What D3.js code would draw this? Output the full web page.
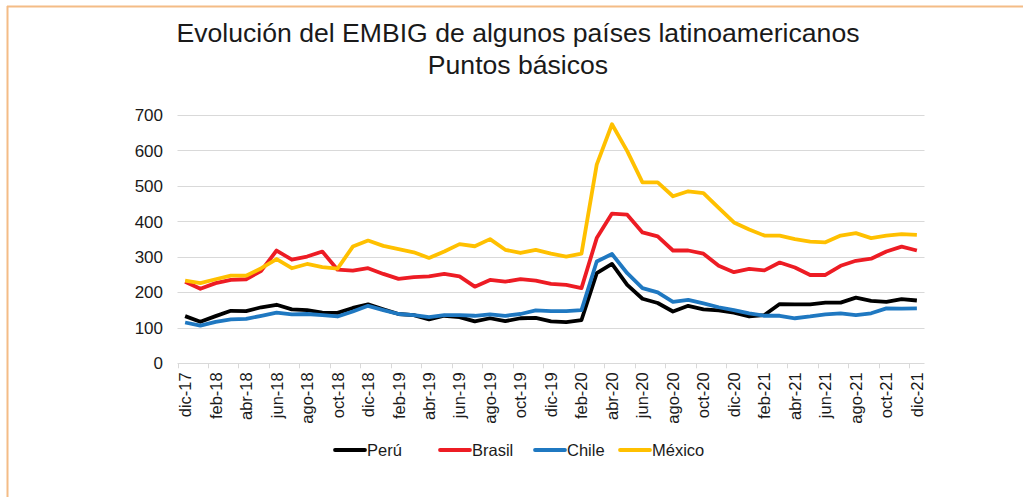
<!doctype html>
<html lang="es">

<head>
    <meta charset="utf-8">
    <title>Evolución del EMBIG</title>
    <script src="https://cdnjs.cloudflare.com/ajax/libs/d3/7.8.5/d3.min.js"></script>
</head>
<style type="text/css">
    body {
        margin: 0;
        background-color: #ffffff;
    }

    #chart text {
        font-family: "Liberation Sans", Arial, sans-serif;
        fill: #1a1a1a;
    }
</style>

<body>
    <svg id="chart" width="1023" height="497"></svg>

    <script>
        // valores (puntos basicos), dic-17 a dic-21
        var meses = ["ene", "feb", "mar", "abr", "may", "jun", "jul", "ago", "sep", "oct", "nov", "dic"];
        var fechas = ["dic-17"];
        [18, 19, 20, 21].forEach(function (a) {
            meses.forEach(function (m) {
                fechas.push(m + "-" + a);
            });
        });

        var peru = [133, 117, 133, 148, 147, 158, 165, 152, 150, 143, 142, 156, 166, 152, 139, 136, 124, 134, 130,
            118, 127, 119, 127, 128, 118, 116, 122, 254, 280, 221, 182, 170, 146, 162, 152, 149, 143, 132, 136, 167,
            166, 166, 171, 171, 185, 176, 173, 181, 177];
        var brasil = [230, 210, 226, 235, 237, 261, 318, 292, 301, 315, 264, 261, 268, 252, 238, 243, 245, 252, 245,
            216, 235, 230, 237, 233, 224, 221, 212, 353, 422, 419, 369, 358, 318, 318, 309, 275, 257, 266, 262, 284,
            270, 249, 249, 275, 289, 295, 315, 329, 318];
        var chile = [115, 106, 117, 124, 125, 134, 143, 138, 139, 136, 132, 146, 162, 150, 139, 136, 130, 136, 136,
            134, 138, 134, 139, 149, 147, 147, 150, 287, 308, 254, 212, 200, 173, 179, 169, 158, 150, 141, 134, 134,
            127, 132, 138, 141, 136, 141, 155, 154, 155];
        var mexico = [233, 226, 237, 247, 247, 268, 294, 268, 280, 271, 267, 329, 346, 331, 322, 313, 297, 315, 336,
            330, 350, 320, 311, 320, 309, 301, 309, 560, 674, 598, 510, 510, 471, 485, 480, 438, 397, 377, 360, 360,
            350, 343, 341, 360, 367, 353, 360, 364, 362];

        var series = [
            { nombre: "Perú", valores: peru, color: "#000000" },
            { nombre: "Brasil", valores: brasil, color: "#ed1c24" },
            { nombre: "Chile", valores: chile, color: "#1f78c1" },
            { nombre: "México", valores: mexico, color: "#ffc000" }
        ];
        var yTicks = [0, 100, 200, 300, 400, 500, 600, 700];

        var svg = d3.select("#chart");

        // marco naranja (arriba e izquierda)
        svg.append("line").attr("x1", 7).attr("x2", 1023).attr("y1", 6.5).attr("y2", 6.5)
            .style("stroke", "#f4bc86").style("stroke-width", 2);
        svg.append("line").attr("x1", 7.5).attr("x2", 7.5).attr("y1", 6).attr("y2", 497)
            .style("stroke", "#f4bc86").style("stroke-width", 2);

        // titulo
        svg.append("text").attr("x", 518).attr("y", 42).attr("text-anchor", "middle")
            .style("font-size", "26.6px").text("Evolución del EMBIG de algunos países latinoamericanos");
        svg.append("text").attr("x", 518).attr("y", 74).attr("text-anchor", "middle")
            .style("font-size", "26.6px").text("Puntos básicos");

        var x = d3.scaleBand().domain(fechas).range([177.5, 924.5]);
        var y = d3.scaleLinear().domain([0, 700]).range([363.3, 115]);
        var cx = function (d) {
            return x(d) + x.bandwidth() / 2;
        };

        // grilla
        svg.append("g").selectAll("line").data(yTicks).enter().append("line")
            .attr("x1", 177.5).attr("x2", 924.5)
            .attr("y1", function (d) { return Math.round(y(d)) + 0.5; })
            .attr("y2", function (d) { return Math.round(y(d)) + 0.5; })
            .style("stroke", "#d9d9d9").style("stroke-width", 1);

        // eje y
        svg.append("g").selectAll("text").data(yTicks).enter().append("text")
            .attr("x", 163).attr("y", function (d) { return y(d); })
            .attr("dy", "0.36em").attr("text-anchor", "end")
            .style("font-size", "17px")
            .text(function (d) { return d; });

        // eje x: marcas cada dos meses y etiquetas rotadas
        var cada2 = fechas.filter(function (d, i) { return i % 2 === 0; });
        svg.append("g").selectAll("line").data(cada2).enter().append("line")
            .attr("x1", function (d) { return Math.round(x(d)) + 0.5; })
            .attr("x2", function (d) { return Math.round(x(d)) + 0.5; })
            .attr("y1", y(0)).attr("y2", y(0) + 5)
            .style("stroke", "#d9d9d9").style("stroke-width", 1);
        svg.append("g").selectAll("text").data(cada2).enter().append("text")
            .attr("transform", function (d) { return "translate(" + cx(d) + "," + (y(0) + 9) + ") rotate(-90)"; })
            .attr("dy", "0.36em").attr("text-anchor", "end")
            .style("font-size", "16.5px")
            .text(function (d) { return d; });

        // lineas
        var linea = d3.line()
            .x(function (d, i) { return cx(fechas[i]); })
            .y(function (d) { return y(d); });

        svg.append("g").selectAll("path").data(series).enter().append("path")
            .attr("d", function (s) { return linea(s.valores); })
            .style("fill", "none")
            .style("stroke", function (s) { return s.color; })
            .style("stroke-width", 3.8)
            .style("stroke-linejoin", "round");

        // leyenda
        var legX = [335, 440, 535, 620];
        var leg = svg.append("g").selectAll("g").data(series).enter().append("g")
            .attr("transform", function (s, i) { return "translate(" + legX[i] + ",450)"; });
        leg.append("line").attr("x1", 0).attr("x2", 30).attr("y1", 0).attr("y2", 0)
            .style("stroke", function (s) { return s.color; })
            .style("stroke-width", 3.8).style("stroke-linecap", "round");
        leg.append("text").attr("x", 32).attr("dy", "0.36em")
            .style("font-size", "16.5px")
            .text(function (s) { return s.nombre; });
    </script>
</body>

</html>
